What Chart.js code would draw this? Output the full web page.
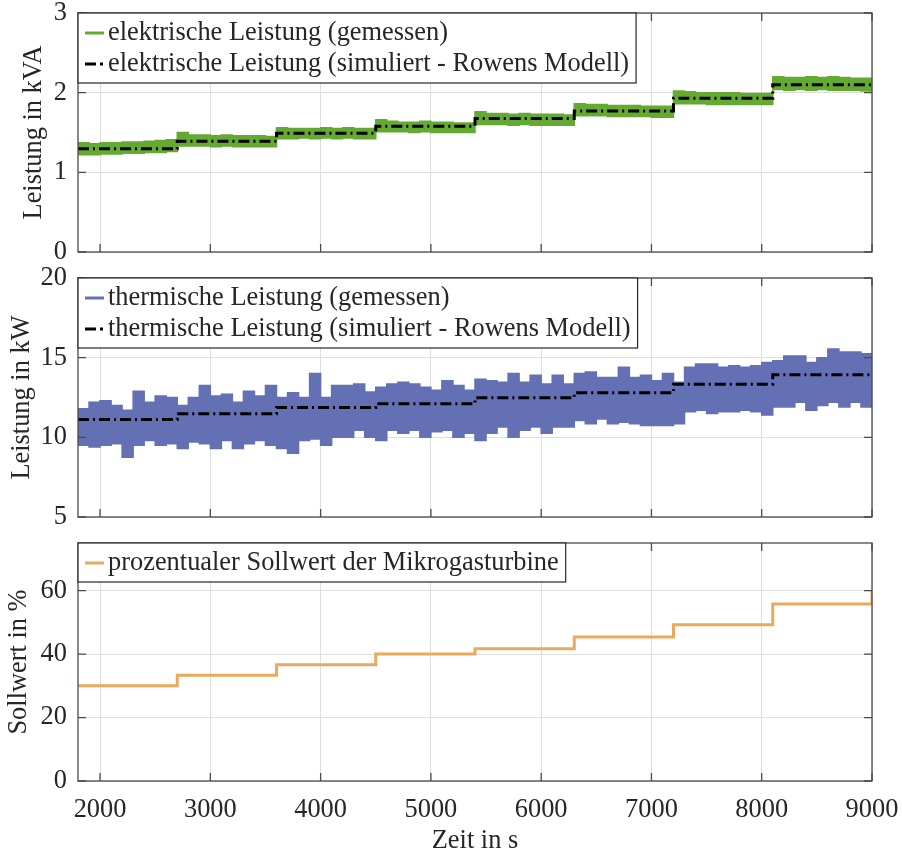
<!DOCTYPE html>
<html>
<head>
<meta charset="utf-8">
<script src="https://cdn.jsdelivr.net/npm/chart.js@4.4.1/dist/chart.umd.min.js"></script>
<style>
  body { margin: 0; background: #fff; }
  canvas { position: absolute; left: 0; }
</style>
</head>
<body>
<canvas id="elektrisch" width="902" height="265" style="top:0"></canvas>
<canvas id="thermisch" width="902" height="265" style="top:265px"></canvas>
<canvas id="sollwert" width="902" height="324" style="top:530px"></canvas>
<script>
// Zeitachse (s), 100-s Raster
const zeit = [1800, 1900, 2000, 2100, 2200, 2300, 2400, 2500, 2600,
  2700, 2800, 2900, 3000, 3100, 3200, 3300, 3400, 3500,
  3600, 3700, 3800, 3900, 4000, 4100, 4200, 4300, 4400,
  4500, 4600, 4700, 4800, 4900, 5000, 5100, 5200, 5300,
  5400, 5500, 5600, 5700, 5800, 5900, 6000, 6100, 6200,
  6300, 6400, 6500, 6600, 6700, 6800, 6900, 7000, 7100,
  7200, 7300, 7400, 7500, 7600, 7700, 7800, 7900, 8000,
  8100, 8200, 8300, 8400, 8500, 8600, 8700, 8800, 8900, 9000];

// Sprungzeitpunkte der Sollwertstufen
const stufenZeit = [1800, 2700, 3600, 4500, 5400, 6300, 7200, 8100, 9000];

// elektrische Leistung (kVA): gemessenes Band (oben/unten) und Simulation
const elMessOben = [1.37, 1.36, 1.37, 1.37, 1.38, 1.38, 1.39, 1.40, 1.41,
  1.50, 1.47, 1.47, 1.46, 1.47, 1.46, 1.46, 1.46, 1.45,
  1.56, 1.55, 1.55, 1.55, 1.56, 1.55, 1.56, 1.55, 1.55,
  1.66, 1.64, 1.63, 1.63, 1.64, 1.63, 1.63, 1.62, 1.62,
  1.76, 1.74, 1.74, 1.73, 1.74, 1.73, 1.73, 1.73, 1.72,
  1.86, 1.85, 1.85, 1.84, 1.84, 1.84, 1.83, 1.83, 1.83,
  2.02, 2.01, 2.00, 2.00, 2.00, 2.00, 1.99, 1.99, 1.99,
  2.20, 2.19, 2.19, 2.20, 2.19, 2.20, 2.19, 2.18, 2.18, 2.17];
const elMessUnten = [1.22, 1.22, 1.23, 1.23, 1.24, 1.24, 1.25, 1.25, 1.26,
  1.33, 1.33, 1.33, 1.32, 1.33, 1.32, 1.32, 1.32, 1.32,
  1.42, 1.42, 1.43, 1.42, 1.43, 1.42, 1.43, 1.42, 1.42,
  1.51, 1.51, 1.51, 1.50, 1.51, 1.50, 1.50, 1.50, 1.50,
  1.60, 1.60, 1.60, 1.59, 1.60, 1.59, 1.59, 1.59, 1.59,
  1.71, 1.71, 1.71, 1.70, 1.70, 1.70, 1.70, 1.69, 1.69,
  1.86, 1.86, 1.86, 1.85, 1.85, 1.85, 1.85, 1.85, 1.85,
  2.04, 2.03, 2.04, 2.03, 2.04, 2.03, 2.03, 2.03, 2.02, 2.02];
const elSimuliert = [1.295, 1.39, 1.49, 1.58, 1.675, 1.77, 1.93, 2.10, 2.10];

// thermische Leistung (kW)
const thMessOben = [11.8, 12.2, 12.3, 12.0, 11.7, 12.9, 12.2, 12.6, 12.5,
  12.0, 12.5, 13.25, 12.6, 12.7, 12.2, 12.9, 12.6, 13.25,
  12.5, 12.8, 12.5, 14.0, 12.5, 13.25, 13.25, 13.35, 12.85,
  13.15, 13.35, 13.45, 13.35, 13.15, 12.95, 13.55, 13.25, 12.95,
  13.65, 13.55, 13.45, 14.0, 13.45, 13.9, 13.35, 13.9, 13.35,
  14.0, 14.1, 13.75, 13.75, 14.4, 13.75, 13.9, 13.55, 14.0,
  13.45, 14.4, 14.6, 14.6, 14.4, 14.5, 14.4, 14.5, 14.7,
  14.8, 15.1, 15.1, 14.7, 15.0, 15.55, 15.35, 15.35, 15.25, 15.25];
const thMessUnten = [9.5, 9.4, 9.5, 9.6, 8.75, 9.5, 9.8, 9.5, 9.6,
  9.3, 9.7, 9.6, 9.3, 9.8, 9.3, 9.6, 9.8, 9.5,
  9.3, 9.0, 9.8, 9.9, 9.5, 10.0, 10.0, 10.45, 10.0,
  9.8, 10.45, 10.25, 10.45, 10.0, 10.35, 10.45, 10.0, 10.25,
  9.8, 10.25, 10.65, 10.0, 10.45, 10.65, 10.25, 10.65, 10.65,
  11.05, 10.85, 11.15, 10.85, 10.95, 10.85, 10.75, 10.75, 10.75,
  10.85, 11.6, 11.7, 11.5, 11.6, 11.6, 11.7, 11.6, 11.4,
  11.9, 11.9, 12.2, 11.7, 12.0, 12.2, 11.9, 12.2, 11.9, 12.3];
const thSimuliert = [11.12, 11.48, 11.87, 12.1, 12.48, 12.8, 13.33, 13.92, 13.92];

// prozentualer Sollwert (%)
const sollwert = [30, 33.3, 36.6, 40, 41.7, 45.4, 49.2, 55.8, 60];

// Achsenticks
const xTicks = [2000, 3000, 4000, 5000, 6000, 7000, 8000, 9000];
const yTicksEl = [0, 1, 2, 3];
const yTicksTh = [5, 10, 15, 20];
const yTicksSoll = [0, 20, 40, 60];

const gruen = '#64AA32';
const blau = '#6470B4';
const orange = '#EBA95B';
const strichPunkt = [11, 4, 2, 4];
const textFarbe = '#262626';
const schrift = 26.4;

Chart.defaults.font.family = '"Liberation Serif", "Times New Roman", serif';
Chart.defaults.font.size = schrift;
Chart.defaults.color = textFarbe;

function punkte(xs, ys) {
    return xs.map((x, i) => ({ x: x, y: ys[i] }));
}

// Rahmen und nach innen zeigende Ticks wie in MATLAB
const rahmenPlugin = {
    id: 'rahmen',
    afterDatasetsDraw(chart) {
        const { ctx, chartArea: a, scales: { x, y } } = chart;
        ctx.save();
        ctx.strokeStyle = '#4a4a4a';
        ctx.lineWidth = 1.3;
        ctx.beginPath();
        x.ticks.forEach(t => {
            const px = x.getPixelForValue(t.value);
            ctx.moveTo(px, a.bottom); ctx.lineTo(px, a.bottom - 8);
            ctx.moveTo(px, a.top); ctx.lineTo(px, a.top + 8);
        });
        y.ticks.forEach(t => {
            const py = y.getPixelForValue(t.value);
            ctx.moveTo(a.left, py); ctx.lineTo(a.left + 8, py);
            ctx.moveTo(a.right, py); ctx.lineTo(a.right - 8, py);
        });
        ctx.stroke();
        ctx.strokeRect(a.left, a.top, a.right - a.left, a.bottom - a.top);
        ctx.restore();
    }
};

// Legende im Kasten oben links
const legendePlugin = {
    id: 'kastenLegende',
    afterDatasetsDraw(chart, args, opts) {
        const { ctx, chartArea: a } = chart;
        const eintraege = opts.eintraege || [];
        ctx.save();
        ctx.font = schrift + 'px "Liberation Serif"';
        const textW = Math.max(...eintraege.map(e => ctx.measureText(e.text).width));
        const w = 30 + textW + 7;
        const h = eintraege.length * 31 + 8;
        ctx.fillStyle = '#fff';
        ctx.fillRect(a.left, a.top, w, h);
        ctx.strokeStyle = textFarbe;
        ctx.lineWidth = 1.2;
        ctx.strokeRect(a.left, a.top, w, h);
        eintraege.forEach((e, i) => {
            const y = a.top + 20 + i * 31;
            ctx.strokeStyle = e.farbe;
            ctx.lineWidth = 3;
            ctx.setLineDash(e.dash ? [11, 4, 3, 20] : []);
            ctx.beginPath();
            ctx.moveTo(a.left + 7, y);
            ctx.lineTo(a.left + 26, y);
            ctx.stroke();
            ctx.setLineDash([]);
            ctx.fillStyle = textFarbe;
            ctx.textBaseline = 'middle';
            ctx.fillText(e.text, a.left + 30, y);
        });
        ctx.restore();
    }
};

function optionen(yMin, yMax, yTicks, titel, titelAbstand, mitXAchse, legende) {
    return {
        responsive: false,
        animation: false,
        layout: { padding: { top: 13, right: 30, bottom: mitXAchse ? 0 : 13, left: 0 } },
        plugins: {
            legend: { display: false },
            tooltip: { enabled: false },
            kastenLegende: { eintraege: legende }
        },
        elements: { point: { radius: 0 } },
        scales: {
            x: {
                type: 'linear',
                min: 1800,
                max: 9000,
                afterBuildTicks: s => { s.ticks = xTicks.map(v => ({ value: v })); },
                afterFit: s => {
                    s.height = mitXAchse ? 73 : 0;
                    s.paddingLeft = 0; s.paddingRight = 0;
                },
                grid: { color: '#dedede', drawTicks: false },
                border: { display: false },
                ticks: {
                    display: mitXAchse,
                    padding: 16,
                    font: { size: schrift, lineHeight: 1 },
                    callback: v => String(v)
                },
                title: {
                    display: mitXAchse,
                    text: 'Zeit in s',
                    padding: { top: 0, bottom: 0 },
                    font: { size: schrift, lineHeight: 1 }
                }
            },
            y: {
                min: yMin,
                max: yMax,
                afterBuildTicks: s => { s.ticks = yTicks.map(v => ({ value: v })); },
                afterFit: s => {
                    s.width = 78;
                    s.paddingTop = 0; s.paddingBottom = 0;
                },
                grid: { color: '#dedede', drawTicks: false },
                border: { display: false },
                ticks: { padding: 11, font: { size: schrift, lineHeight: 1 }, callback: v => String(v) },
                title: {
                    display: true,
                    text: titel,
                    padding: { top: titelAbstand, bottom: 0 },
                    font: { size: schrift }
                }
            }
        }
    };
}

new Chart(document.getElementById('elektrisch'), {
    type: 'line',
    data: {
        datasets: [
            { data: punkte(zeit, elMessOben), borderColor: gruen, borderWidth: 1.5, stepped: true, fill: false, order: 1 },
            { data: punkte(zeit, elMessUnten), borderColor: gruen, borderWidth: 1.5, stepped: true, fill: '-1', backgroundColor: gruen, order: 1 },
            { data: punkte(stufenZeit, elSimuliert), borderColor: '#000', borderWidth: 3, borderDash: strichPunkt, stepped: true, fill: false, order: 0 }
        ]
    },
    options: optionen(0, 3, yTicksEl, 'Leistung in kVA', 18, false, [
        { text: 'elektrische Leistung (gemessen)', farbe: gruen },
        { text: 'elektrische Leistung (simuliert - Rowens Modell)', farbe: '#000', dash: true }
    ]),
    plugins: [rahmenPlugin, legendePlugin]
});

new Chart(document.getElementById('thermisch'), {
    type: 'line',
    data: {
        datasets: [
            { data: punkte(zeit, thMessOben), borderColor: blau, borderWidth: 1.5, stepped: true, fill: false, order: 1 },
            { data: punkte(zeit, thMessUnten), borderColor: blau, borderWidth: 1.5, stepped: true, fill: '-1', backgroundColor: blau, order: 1 },
            { data: punkte(stufenZeit, thSimuliert), borderColor: '#000', borderWidth: 3, borderDash: strichPunkt, stepped: true, fill: false, order: 0 }
        ]
    },
    options: optionen(5, 20, yTicksTh, 'Leistung in kW', 6, false, [
        { text: 'thermische Leistung (gemessen)', farbe: blau },
        { text: 'thermische Leistung (simuliert - Rowens Modell)', farbe: '#000', dash: true }
    ]),
    plugins: [rahmenPlugin, legendePlugin]
});

new Chart(document.getElementById('sollwert'), {
    type: 'line',
    data: {
        datasets: [
            { data: punkte(stufenZeit, sollwert), borderColor: orange, borderWidth: 3, stepped: true, fill: false }
        ]
    },
    options: optionen(0, 75, yTicksSoll, 'Sollwert in %', 3, true, [
        { text: 'prozentualer Sollwert der Mikrogasturbine', farbe: orange }
    ]),
    plugins: [rahmenPlugin, legendePlugin]
});
</script>
</body>
</html>
